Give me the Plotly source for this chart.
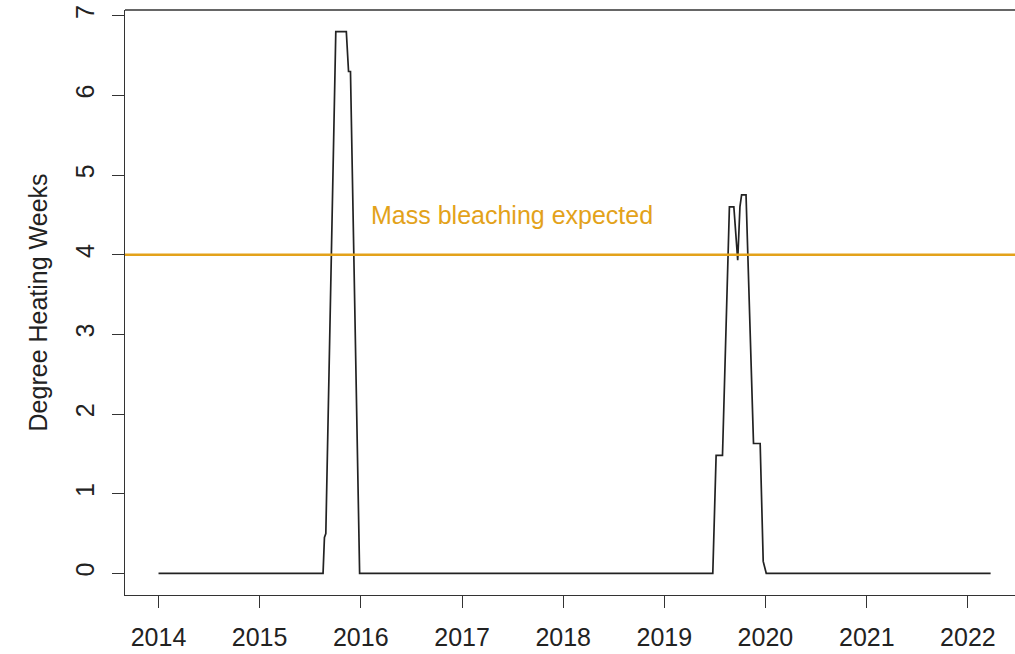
import plotly.graph_objects as go

# Degree Heating Weeks time series (vertices)
dates = [
    "2014-01-01", "2015-08-18", "2015-08-23", "2015-08-28", "2015-10-03",
    "2015-11-10", "2015-11-18", "2015-11-25", "2015-12-28",
    "2019-06-25", "2019-07-07", "2019-07-30", "2019-08-24", "2019-09-09",
    "2019-09-23", "2019-10-01", "2019-10-07", "2019-10-23", "2019-11-19",
    "2019-12-13", "2019-12-24", "2020-01-04", "2022-03-24",
]
dhw = [
    0, 0, 0.45, 0.5, 6.8,
    6.8, 6.3, 6.3, 0,
    0, 1.48, 1.48, 4.6, 4.6,
    3.93, 4.6, 4.75, 4.75, 1.63,
    1.63, 0.15, 0, 0,
]
threshold = 4
threshold_label = "Mass bleaching expected"
label_pos = ("2017-07-01", 4.5)
x_ticks = ["2014-01-01", "2015-01-01", "2016-01-01", "2017-01-01", "2018-01-01",
           "2019-01-01", "2020-01-01", "2021-01-01", "2022-01-01"]
x_tick_labels = ["2014", "2015", "2016", "2017", "2018", "2019", "2020", "2021", "2022"]
y_ticks = [0, 1, 2, 3, 4, 5, 6, 7]

ORANGE = "#E3A21A"
FONT = "Liberation Sans, Arial, sans-serif"
FS = 25

fig = go.Figure()
fig.add_trace(go.Scatter(x=dates, y=dhw, mode="lines",
                         line=dict(color="#222222", width=1.7), showlegend=False,
                         hoverinfo="skip"))

fig.add_shape(type="line", xref="paper", x0=0, x1=1, yref="y", y0=threshold, y1=threshold,
              line=dict(color=ORANGE, width=2.5))
# top border of the box
fig.add_shape(type="line", xref="paper", x0=0, x1=1, yref="paper", y0=1, y1=1,
              line=dict(color="#333333", width=1.3))

fig.add_annotation(x=label_pos[0], y=label_pos[1], text=threshold_label, showarrow=False,
                   font=dict(color=ORANGE, size=FS, family=FONT))
fig.add_annotation(xref="paper", yref="paper", x=-0.0978, y=0.5, text="Degree Heating Weeks",
                   textangle=-90, showarrow=False, xanchor="center", yanchor="middle",
                   font=dict(color="#222222", size=FS, family=FONT))

fig.update_layout(
    width=1015, height=654,
    margin=dict(l=125, r=0, t=10, b=59, autoexpand=False),
    paper_bgcolor="white", plot_bgcolor="white",
    font=dict(family=FONT, size=FS, color="#222222"),
)
fig.update_xaxes(
    type="date", range=["2013-09-02", "2022-06-20"],
    tickvals=x_ticks, ticktext=x_tick_labels,
    showgrid=False, zeroline=False,
    showline=True, linecolor="#333333", linewidth=1.3,
    ticks="outside", ticklen=12, tickwidth=1.3, tickcolor="#333333",
    tickfont=dict(size=FS, color="#222222"), ticklabelstandoff=8,
)
fig.update_yaxes(
    range=[-0.272, 7.072],
    tickvals=y_ticks, ticktext=[str(v) for v in y_ticks],
    tickangle=-90,
    showgrid=False, zeroline=False,
    showline=True, linecolor="#333333", linewidth=1.3,
    ticks="outside", ticklen=12, tickwidth=1.3, tickcolor="#333333",
    tickfont=dict(size=FS, color="#222222"), ticklabelstandoff=8,
)

fig.write_html("out.html", config={"displayModeBar": False},
               post_script="document.body.style.margin='0px';document.body.style.overflow='hidden';")
